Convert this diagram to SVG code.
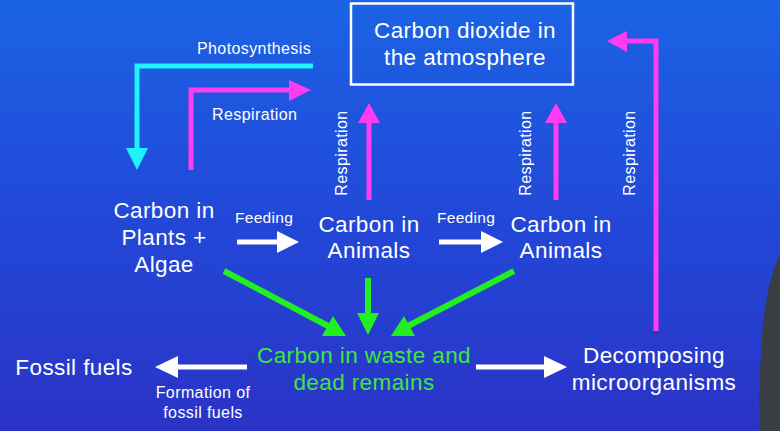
<svg xmlns="http://www.w3.org/2000/svg" width="780" height="431" viewBox="0 0 780 431">
<defs>
<linearGradient id="bg" x1="0" y1="0" x2="0" y2="1">
<stop offset="0" stop-color="#1b63e4"/>
<stop offset="0.5" stop-color="#2248d8"/>
<stop offset="1" stop-color="#2a33c6"/>
</linearGradient>
<style>
text{font-family:"Liberation Sans",Arial,sans-serif;fill:#ffffff}
.big{font-size:22.5px;letter-spacing:0.4px;text-anchor:middle}
.sm{font-size:16px;letter-spacing:0.4px}
.xs{font-size:15.5px;letter-spacing:0.3px}
.green{fill:#3ee63e}
.cy{stroke:#1ef2ff;fill:none;stroke-width:5}
.mg{stroke:#ff3cf0;fill:none;stroke-width:5}
.wh{stroke:#ffffff;fill:none;stroke-width:5}
.gr{stroke:#22ee22;fill:none;stroke-width:6}
</style>
</defs>
<rect width="780" height="431" fill="url(#bg)"/>
<path d="M780,255 C772,270 764,300 762,340 C760,370 758,400 760,431 L780,431 Z" fill="#3a3e42"/>

<g id="atmosphere">
<rect x="351" y="3.5" width="222" height="81" fill="none" stroke="#ffffff" stroke-width="2.5"/>
<text class="big" x="465" y="38">Carbon dioxide in</text>
<text class="big" x="465" y="65">the atmosphere</text>
</g>
<g id="plants">
<text class="big" x="164" y="218">Carbon in</text>
<text class="big" x="164" y="245">Plants +</text>
<text class="big" x="164" y="272">Algae</text>
</g>
<g id="animals1">
<text class="big" x="369" y="232">Carbon in</text>
<text class="big" x="369" y="258">Animals</text>
</g>
<g id="animals2">
<text class="big" x="561" y="232">Carbon in</text>
<text class="big" x="561" y="258">Animals</text>
</g>
<g id="waste">
<text class="big green" x="364" y="363">Carbon in waste and</text>
<text class="big green" x="364" y="390">dead remains</text>
</g>
<g id="fossil">
<text class="big" x="74" y="375">Fossil fuels</text>
</g>
<g id="decomposers">
<text class="big" x="654" y="363">Decomposing</text>
<text class="big" x="654" y="390">microorganisms</text>
</g>

<g id="connectors">
<!-- Photosynthesis -->
<polyline class="cy" points="313,66 137,66 137,150"/>
<polygon points="126,148 148,148 137,170" fill="#1ef2ff"/>
<text class="sm" x="197" y="54">Photosynthesis</text>
<!-- Respiration plants -->
<polyline class="mg" points="191,170 191,90 291,90"/>
<polygon points="289,80 289,101 311,90" fill="#ff3cf0"/>
<text class="sm" x="212" y="120">Respiration</text>
<!-- Respiration animals 1 -->
<line class="mg" x1="369" y1="200" x2="369" y2="121"/>
<polygon points="358,123 380,123 369,103" fill="#ff3cf0"/>
<text class="sm" transform="translate(347,153) rotate(-90)" text-anchor="middle">Respiration</text>
<!-- Respiration animals 2 -->
<line class="mg" x1="556" y1="200" x2="556" y2="121"/>
<polygon points="545,123 567,123 556,103" fill="#ff3cf0"/>
<text class="sm" transform="translate(531,153) rotate(-90)" text-anchor="middle">Respiration</text>
<!-- Respiration decomposers -->
<polyline class="mg" points="656,331 656,41 625,41"/>
<polygon points="627,31 627,52 607,41" fill="#ff3cf0"/>
<text class="sm" transform="translate(635,153) rotate(-90)" text-anchor="middle">Respiration</text>
<!-- Feeding -->
<line class="wh" x1="237" y1="242" x2="279" y2="242"/>
<polygon points="277,231 277,253 299,242" fill="#ffffff"/>
<text class="xs" x="235" y="223">Feeding</text>
<line class="wh" x1="439" y1="242" x2="483" y2="242"/>
<polygon points="481,231 481,253 503,242" fill="#ffffff"/>
<text class="xs" x="437" y="223">Feeding</text>
<!-- Green -->
<line class="gr" x1="224" y1="271" x2="330" y2="327"/>
<polygon points="346,336 322,336 333,316" fill="#22ee22"/>
<line class="gr" x1="368" y1="278" x2="368" y2="316"/>
<polygon points="357,313 379,313 368,335" fill="#22ee22"/>
<line class="gr" x1="514" y1="271" x2="406" y2="327"/>
<polygon points="391,336 415,336 404,316" fill="#22ee22"/>
<!-- Formation -->
<line class="wh" x1="247" y1="367" x2="176" y2="367"/>
<polygon points="178,356 178,378 155,367" fill="#ffffff"/>
<text class="sm" x="203" y="398" text-anchor="middle">Formation of</text>
<text class="sm" x="203" y="418" text-anchor="middle">fossil fuels</text>
<!-- Decomposers -->
<line class="wh" x1="476" y1="367" x2="546" y2="367"/>
<polygon points="544,356 544,378 567,367" fill="#ffffff"/>
</g>
</svg>
